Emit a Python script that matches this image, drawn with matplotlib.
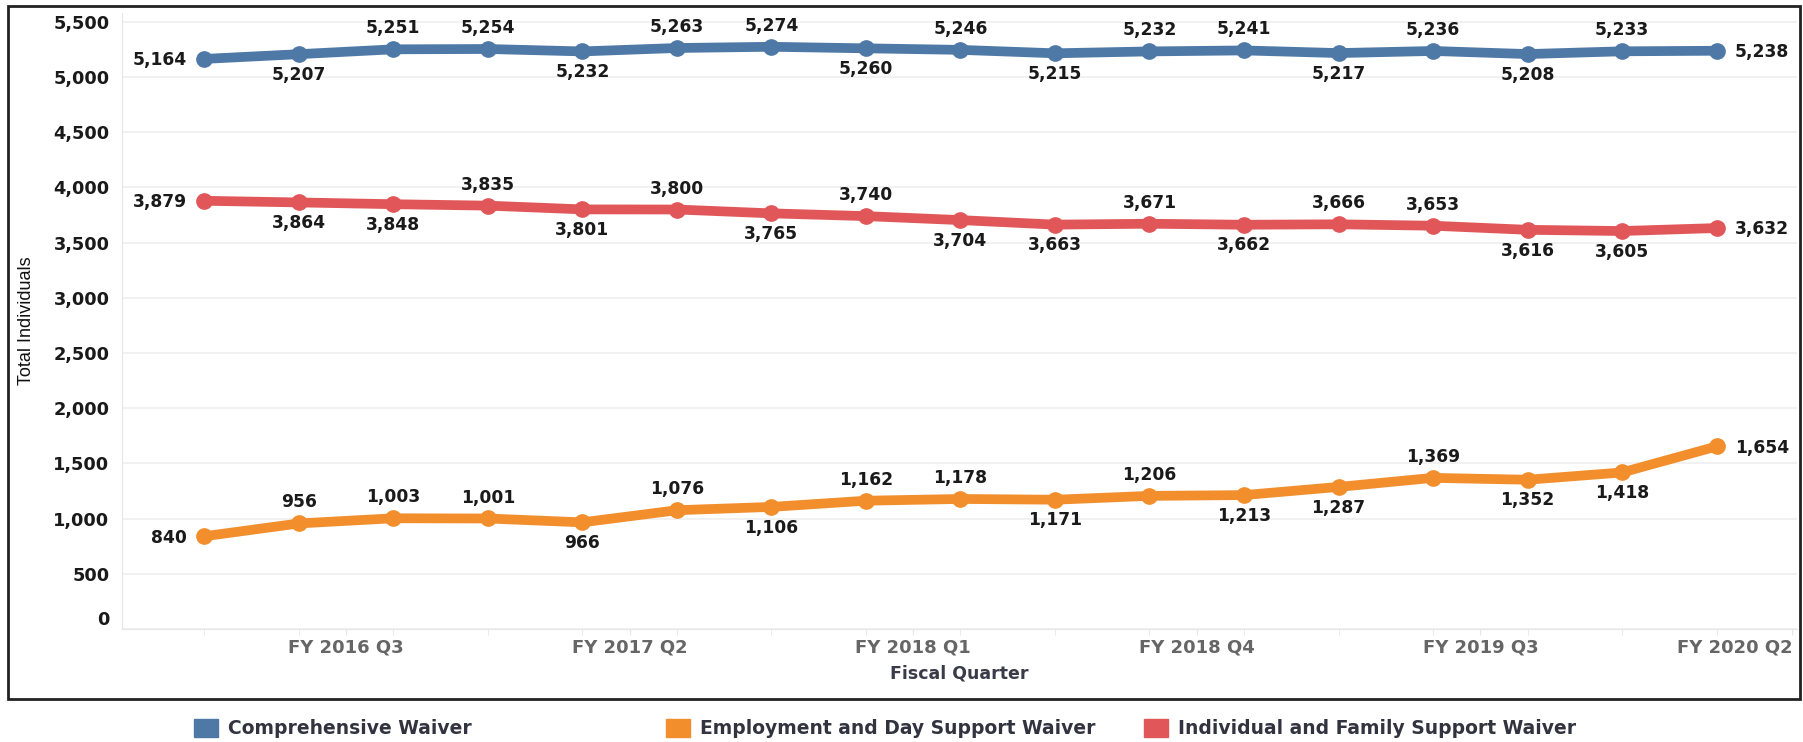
import matplotlib.pyplot as plt
import matplotlib.transforms as mtransforms
from matplotlib.patches import Rectangle

quarters = ["FY 2016 Q2", "FY 2016 Q3", "FY 2016 Q4", "FY 2017 Q1", "FY 2017 Q2",
            "FY 2017 Q3", "FY 2017 Q4", "FY 2018 Q1", "FY 2018 Q2", "FY 2018 Q3",
            "FY 2018 Q4", "FY 2019 Q1", "FY 2019 Q2", "FY 2019 Q3", "FY 2019 Q4",
            "FY 2020 Q1", "FY 2020 Q2"]
comprehensive = [5164, 5207, 5251, 5254, 5232, 5263, 5274, 5260, 5246, 5215,
                 5232, 5241, 5217, 5236, 5208, 5233, 5238]
employment = [840, 956, 1003, 1001, 966, 1076, 1106, 1162, 1178, 1171,
              1206, 1213, 1287, 1369, 1352, 1418, 1654]
individual = [3879, 3864, 3848, 3835, 3801, 3800, 3765, 3740, 3704, 3663,
              3671, 3662, 3666, 3653, 3616, 3605, 3632]

# where each value label sits: l=left, r=right, a=above, b=below
comp_side = "lbaabaababaababar"
emp_side = "laaababaababbabbr"
ind_side = "lbbabababbabaabbr"

series = [
    ("Comprehensive Waiver", comprehensive, comp_side, "#4e79a7"),
    ("Employment and Day Support Waiver", employment, emp_side, "#f28e2b"),
    ("Individual and Family Support Waiver", individual, ind_side, "#e15759"),
]

plt.rcParams['font.family'] = ['DejaVu Sans']

fig = plt.figure(figsize=(18.03, 7.42), dpi=100)
ax = fig.add_axes([122 / 1803, 1 - 629 / 742, (1797 - 122) / 1803, (629 - 13) / 742])

x = list(range(len(quarters)))
for name, vals, sides, color in series:
    ax.plot(x, vals, color=color, lw=7, marker='o', ms=11, solid_capstyle='round', zorder=3)
    for xi, v, s in zip(x, vals, sides):
        if s == 'l':
            off, ha = (-12.5, -4.5), 'right'
        elif s == 'r':
            off, ha = (13, -4.5), 'left'
        elif s == 'a':
            off, ha = (0, 11.5), 'center'
        else:
            off, ha = (0, -18.5), 'center'
        ax.annotate(f"{v:,}", (xi, v), xytext=off, textcoords='offset points',
                    ha=ha, va='baseline', fontsize=12.3, fontweight='bold',
                    color='#1a1a1a', zorder=4)

ax.set_xlim(-0.87, 16.85)
ax.set_ylim(0, 5580)
yt = list(range(0, 5501, 500))
ax.set_yticks(yt)
ax.set_yticklabels([f"{t:,}" for t in yt], fontsize=12.8, fontweight='bold', color='#1a1a1a')
ax.yaxis.grid(True, color='#efefef', lw=1.2)
ax.set_axisbelow(True)

label_idx = [1, 4, 7, 10, 13, 16]
tick_pos = [i + 0.5 for i in label_idx[:-1]] + [16.8]
ax.set_xticks(tick_pos)
ax.set_xticklabels([quarters[i] for i in label_idx], fontsize=13, fontweight='bold', color='#666666')
ax.get_xticklabels()[-1].set_ha('right')
ax.set_xticks(x, minor=True)
ax.tick_params(axis='x', which='major', length=4, color='#e6e6e6', pad=3)
ax.tick_params(axis='x', which='minor', length=4, color='#e6e6e6')
ax.tick_params(axis='y', length=0, pad=9)

# the zero label sits a little above the axis line
zero = ax.get_yticklabels()[0]
zero.set_transform(zero.get_transform() + mtransforms.ScaledTranslation(0, 8 / 72, fig.dpi_scale_trans))

for side in ['top', 'right']:
    ax.spines[side].set_visible(False)
for side in ['left', 'bottom']:
    ax.spines[side].set_color('#e6e6e6')

ax.set_xlabel("Fiscal Quarter", fontsize=12.5, fontweight='bold', color='#3a3a48')
ax.xaxis.set_label_coords(0.5, -0.058)
ax.set_ylabel("Total Individuals", fontsize=13, family=['Liberation Sans Narrow', 'Liberation Sans'],
              color='#111111')
ax.yaxis.set_label_coords(-0.052, 0.5)

# outer frame
fig.patches.append(Rectangle((8 / 1803, 1 - 699 / 742), 1792 / 1803, 693 / 742,
                             transform=fig.transFigure, fill=False, ec='#222222', lw=2))

# legend under the frame
leg_x = [194, 666, 1144]
for (name, vals, sides, color), lx in zip(series, leg_x):
    fig.patches.append(Rectangle((lx / 1803, 1 - 737 / 742), 24 / 1803, 18 / 742,
                                 transform=fig.transFigure, color=color))
    fig.text((lx + 34) / 1803, 1 - 728 / 742, name, fontsize=13.5, fontweight='bold',
             color='#333340', va='center', ha='left')

fig.savefig("out.png", dpi=100)
